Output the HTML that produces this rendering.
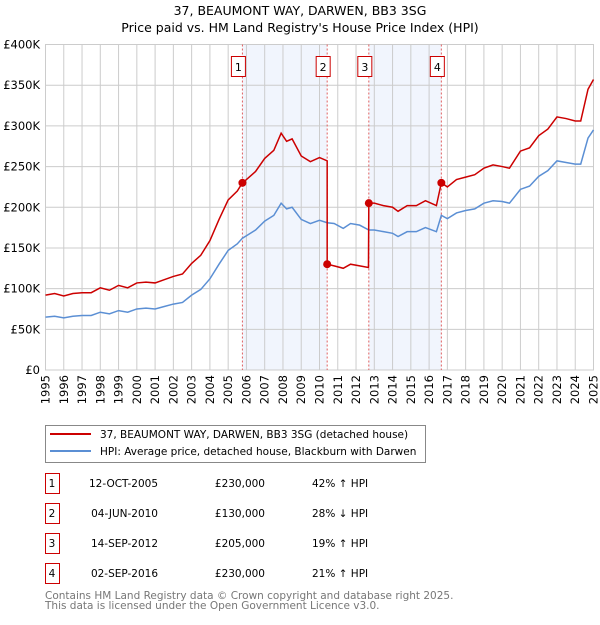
<!DOCTYPE html>
<html><head><meta charset="utf-8"><style>
body{margin:0;background:#fff;font-family:"Liberation Sans","DejaVu Sans",sans-serif;}
svg text{font-family:"DejaVu Sans","Liberation Sans",sans-serif;}
</style></head><body>
<svg id="c" width="600" height="620" viewBox="0 0 600 620">
<text x="300" y="15" text-anchor="middle" font-size="12.5">37, BEAUMONT WAY, DARWEN, BB3 3SG</text>
<text x="300" y="32" text-anchor="middle" font-size="12.5">Price paid vs. HM Land Registry's House Price Index (HPI)</text>
<g id="plot"></g>
<g>
<rect x="45.5" y="425.5" width="380" height="37" fill="#fff" stroke="#888"/>
<line x1="50" y1="434" x2="91" y2="434" stroke="#cc0000" stroke-width="2"/>
<text x="100" y="438" font-size="10.5">37, BEAUMONT WAY, DARWEN, BB3 3SG (detached house)</text>
<line x1="50" y1="451" x2="91" y2="451" stroke="#5b8fd4" stroke-width="2"/>
<text x="100" y="455" font-size="10.5">HPI: Average price, detached house, Blackburn with Darwen</text>
</g>
<g id="tbl" font-size="10.5"></g>
<text x="45" y="599" font-size="10.5" fill="#777">Contains HM Land Registry data © Crown copyright and database right 2025.</text>
<text x="45" y="609" font-size="10.5" fill="#777">This data is licensed under the Open Government Licence v3.0.</text>
</svg>
<script>
const hpiDates=[1995.0,1995.5,1996.0,1996.5,1997.0,1997.5,1998.0,1998.5,1999.0,1999.5,2000.0,2000.5,2001.0,2001.5,2002.0,2002.5,2003.0,2003.5,2004.0,2004.5,2005.0,2005.5,2005.78,2006.0,2006.5,2007.0,2007.5,2007.9,2008.2,2008.5,2009.0,2009.5,2010.0,2010.42,2010.8,2011.3,2011.7,2012.2,2012.7,2013.0,2013.5,2014.0,2014.3,2014.8,2015.3,2015.8,2016.4,2016.67,2017.0,2017.5,2018.0,2018.5,2019.0,2019.5,2020.0,2020.4,2021.0,2021.5,2022.0,2022.5,2023.0,2023.5,2024.0,2024.3,2024.7,2025.0];
const hpiValues=[65,66,64,66,67,67,71,69,73,71,75,76,75,78,81,83,92,99,112,130,147,155,162,165,172,183,190,205,198,200,185,180,184,181,180,174,180,178,172,172,170,168,164,170,170,175,170,190,186,193,196,198,205,208,207,205,222,226,238,245,257,255,253,253,285,295];
const priceDates=[1995.0,1995.5,1996.0,1996.5,1997.0,1997.5,1998.0,1998.5,1999.0,1999.5,2000.0,2000.5,2001.0,2001.5,2002.0,2002.5,2003.0,2003.5,2004.0,2004.5,2005.0,2005.5,2005.78,2006.0,2006.5,2007.0,2007.5,2007.9,2008.2,2008.5,2009.0,2009.5,2010.0,2010.42,2010.42,2010.8,2011.3,2011.7,2012.2,2012.68,2012.7,2013.0,2013.5,2014.0,2014.3,2014.8,2015.3,2015.8,2016.4,2016.67,2017.0,2017.5,2018.0,2018.5,2019.0,2019.5,2020.0,2020.4,2021.0,2021.5,2022.0,2022.5,2023.0,2023.5,2024.0,2024.3,2024.7,2025.0];
const priceValues=[92,94,91,94,95,95,101,98,104,101,107,108,107,111,115,118,131,141,159,185,209,220,230,234,244,260,270,291,281,284,263,256,261,257,130,128,125,130,128,126,205,205,202,200,195,202,202,208,202,230,225,234,237,240,248,252,250,248,269,273,288,296,311,309,306,306,345,357];
const saleDates=[2005.78,2010.42,2012.7,2016.67];
const salePrices=[230,130,205,230];
const saleLabels=["1","2","3","4"];
const saleDateText=["12-OCT-2005","04-JUN-2010","14-SEP-2012","02-SEP-2016"];
const salePriceText=["£230,000","£130,000","£205,000","£230,000"];
const saleHpiText=["42% ↑ HPI","28% ↓ HPI","19% ↑ HPI","21% ↑ HPI"];
const yTicks=[0,50,100,150,200,250,300,350,400];
const yTickLabels=["£0","£50K","£100K","£150K","£200K","£250K","£300K","£350K","£400K"];
const xTicks=[];for(let y=1995;y<=2025;y++)xTicks.push(y);

const NS="http://www.w3.org/2000/svg";
const X0=45.5,X1=593.5,Y0=370,Y1=44.5;
const xs=d=>X0+(d-1995)/30*(X1-X0);
const ys=v=>Y0-v/400*(Y0-Y1);
const plot=document.getElementById('plot');
function mk(tag,attrs,parent){const e=document.createElementNS(NS,tag);for(const k in attrs)e.setAttribute(k,attrs[k]);(parent||plot).appendChild(e);return e;}
mk('rect',{x:X0,y:Y1,width:X1-X0,height:Y0-Y1,fill:'#fff'});
for(let i=0;i<saleDates.length;i+=2){
 const r=mk('rect',{x:xs(saleDates[i]),y:Y1,width:xs(saleDates[i+1])-xs(saleDates[i]),height:Y0-Y1,fill:'#eef3fd',opacity:0.8});
 
 
}
yTicks.forEach((v,i)=>{
 mk('line',{x1:X0,x2:X1,y1:ys(v),y2:ys(v),stroke:'#ccc','stroke-width':1});
 const t=mk('text',{x:40,y:ys(v)+4,'text-anchor':'end','font-size':11.5});
 t.textContent=yTickLabels[i];
 
 
});
xTicks.forEach(y=>{
 mk('line',{x1:xs(y),x2:xs(y),y1:Y1,y2:Y0,stroke:'#ccc','stroke-width':1});
 const t=mk('text',{x:0,y:0,'text-anchor':'end','font-size':11.5,transform:`translate(${xs(y)+4},375) rotate(-90)`});
 t.textContent=y;
 
 
});
mk('rect',{x:X0,y:Y1,width:X1-X0,height:Y0-Y1,fill:'none',stroke:'#ccc'});
saleDates.forEach((d,i)=>{
 const l=mk('line',{x1:xs(d),x2:xs(d),y1:Y1,y2:Y0,stroke:'#e06060','stroke-width':1,'stroke-dasharray':'2,2'});
 
 
 const b=mk('rect',{x:xs(d)-11,y:56.5,width:14,height:20,fill:'#fff',stroke:'#cc0000'});
 
 
 const t=mk('text',{x:xs(d)-4,y:71,'text-anchor':'middle','font-size':11});
 t.textContent=saleLabels[i];
 
 
});
const hp=mk('polyline',{points:hpiDates.map((d,i)=>xs(d)+','+ys(hpiValues[i])).join(' '),fill:'none',stroke:'#5b8fd4','stroke-width':1.5});


const pp=mk('polyline',{points:priceDates.map((d,i)=>xs(d)+','+ys(priceValues[i])).join(' '),fill:'none',stroke:'#cc0000','stroke-width':1.5});


saleDates.forEach((d,i)=>{
 const c=mk('circle',{cx:xs(d),cy:ys(salePrices[i]),r:4,fill:'#cc0000'});
 
 
});
const tbl=document.getElementById('tbl');
saleDates.forEach((d,i)=>{
 const y=483+i*30;
 const b=mk('rect',{x:45.5,y:y-9.5,width:14,height:20,fill:'#fff',stroke:'#cc0000'},tbl);
 
 
 const cells=[[52,saleLabels[i],'middle'],[158,saleDateText[i],'end'],[265,salePriceText[i],'end'],[312,saleHpiText[i],'start']];
 cells.forEach(c=>{
  const t=mk('text',{x:c[0],y:y+4,'text-anchor':c[2]},tbl);
  t.textContent=c[1];
  
  
 });
});
</script>
</body></html>
